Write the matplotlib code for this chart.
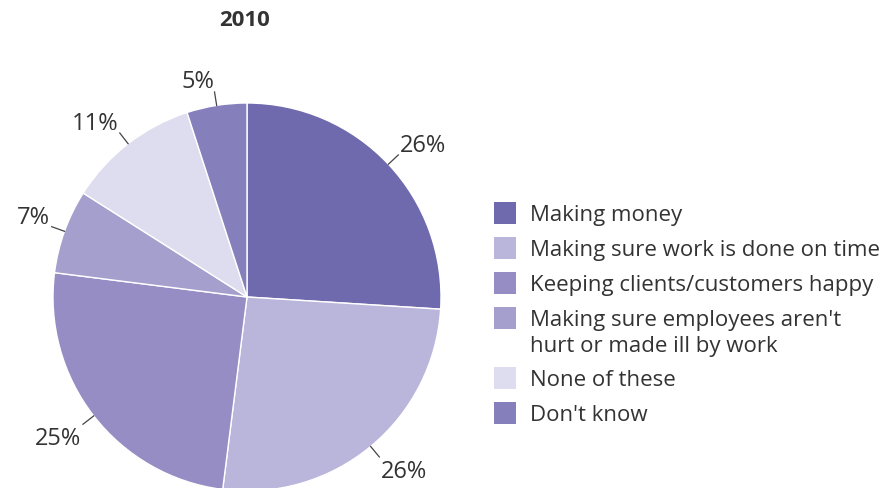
import numpy as np
import matplotlib
matplotlib.use("Agg")
import matplotlib.pyplot as plt
from matplotlib.patches import Rectangle

plt.rcParams['font.family'] = ['Open Sans', 'DejaVu Sans']

# Data
title = "2010"
categories = [
    "Making money",
    "Making sure work is done on time",
    "Keeping clients/customers happy",
    "Making sure employees aren't\nhurt or made ill by work",
    "None of these",
    "Don't know",
]
values = [26, 26, 25, 7, 11, 5]
colors = ["#6f6aad", "#bab6db", "#958dc3", "#a59fcd", "#dedcef", "#857fbb"]
text_color = "#333333"

W, H = 881, 488
fig = plt.figure(figsize=(W / 100, H / 100), dpi=100)

# Pie axes: centre and radius in pixels
cx, cy, r = 247, 297, 194
ax = fig.add_axes([(cx - r) / W, (H - cy - r) / H, 2 * r / W, 2 * r / H])
wedges, _ = ax.pie(values, colors=colors, startangle=90, counterclock=False,
                   radius=1, wedgeprops=dict(edgecolor="white", linewidth=1.0))
ax.set_xlim(-1, 1)
ax.set_ylim(-1, 1)
ax.set_aspect("equal")
ax.axis("off")

# Percentage labels with short leader lines
for w, v in zip(wedges, values):
    ang = np.deg2rad((w.theta1 + w.theta2) / 2)
    c, s = np.cos(ang), np.sin(ang)
    ax.plot([c * 1.0, c * 1.07], [s * 1.0, s * 1.07], color="#444444",
            lw=0.9, clip_on=False)
    ha = "left" if c > 0 else "right"
    va = "baseline" if s > 0 else "top"
    ax.text(c * 1.08, s * 1.08 + (0.01 if s > 0 else -0.01), f"{v}%",
            ha=ha, va=va, fontsize=17, color=text_color, clip_on=False)

fig.text(245 / W, 1 - 20 / H, title, ha="center", va="center",
         fontsize=16, fontweight="bold", color=text_color)

# Legend drawn row by row
lx, sq = 494, 22
y = 213
row_step, line_step = 35, 26
for lab, col in zip(categories, colors):
    fig.patches.append(Rectangle((lx / W, 1 - (y + sq / 2) / H), sq / W, sq / H,
                                 transform=fig.transFigure, facecolor=col,
                                 edgecolor="none"))
    lines = lab.split("\n")
    for k, line in enumerate(lines):
        fig.text(530 / W, 1 - (y + k * line_step) / H, line, ha="left",
                 va="center_baseline", fontsize=16, color=text_color)
    y += row_step + (len(lines) - 1) * (line_step - 1)

fig.savefig("out.png", dpi=100, facecolor="white")
